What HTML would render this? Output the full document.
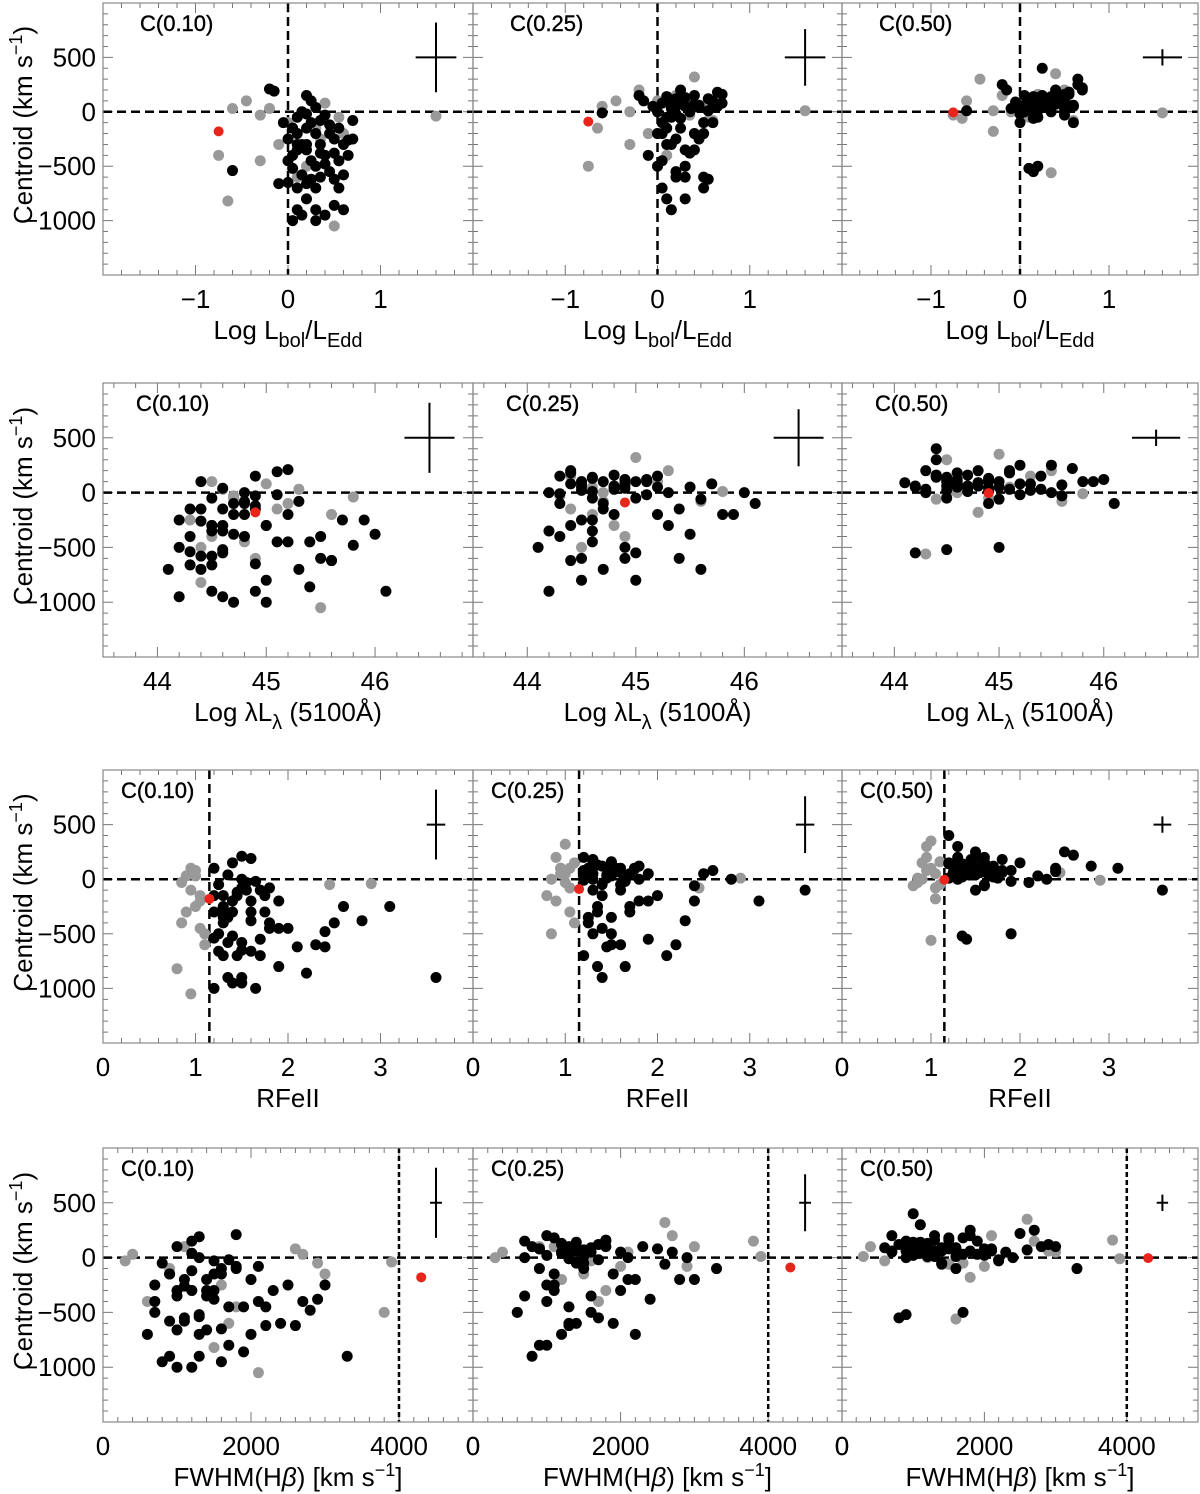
<!DOCTYPE html>
<html><head><meta charset="utf-8">
<style>
body{margin:0;background:#fff;}
svg{display:block;font-family:"Liberation Sans",Arial,sans-serif;}
</style></head>
<body>
<svg id="chart" width="1200" height="1494" viewBox="0 0 1200 1494"></svg>
<script>
// ---- data (one entry per object) ----
const ledd  = [0.2,-0.2,-0.15,0.05,0.1,0.0,0.05,-0.1,0.0,0.1,0.2,0.05,0.1,0.15,0.2,0.3,0.3,0.35,0.4,0.45,0.5,0.55,0.6,0.5,0.4,0.2,0.25,0.3,0.35,0.4,0.45,0.5,0.55,0.6,0.65,0.7,0.1,0.15,0.2,0.25,0.3,0.35,0.4,0.05,0.1,0.15,0.2,0.25,0.3,0.35,-0.05,0.0,0.05,0.15,0.25,0.45,0.5,0.55,0.6,0.65,-0.6,0.3,0.1,0.2,0.7];
const l5100 = [44.5,45.2,45.1,44.4,44.6,44.2,44.8,44.3,44.9,45.3,44.5,44.7,44.5,44.2,45.0,44.9,44.1,45.5,45.8,44.6,45.6,44.4,46.1,45.4,44.6,44.9,44.7,45.2,44.5,44.3,44.8,45.9,44.6,45.0,44.4,45.7,44.5,44.8,45.1,44.4,44.6,45.3,44.9,44.3,44.7,45.0,44.5,45.4,44.2,46.0,44.8,45.2,44.6,44.4,45.6,44.9,44.7,45.1,44.5,45.5,44.3,45.0,44.6,44.9,44.8];
const rfe   = [1.3,1.5,1.6,1.2,1.4,1.3,1.8,1.25,1.5,1.7,1.6,1.2,1.35,1.4,1.9,1.5,1.3,2.3,2.4,1.7,2.1,1.45,3.6,2.2,1.5,1.4,1.55,1.9,1.2,1.3,1.6,3.1,1.45,1.75,1.3,2.6,1.25,1.5,1.65,1.2,1.35,1.8,1.55,1.3,1.4,1.6,1.35,2.0,1.25,2.8,1.7,1.9,1.4,1.35,2.4,1.45,1.6,1.8,1.5,2.5,1.2,1.65,1.3,1.75,1.5];
const fwhm  = [1200,1800,1300,900,1500,700,2100,1000,1600,2000,1400,1200,900,800,1700,1300,600,2400,2800,1100,2200,1300,3300,1900,1600,1200,1800,2000,1000,700,1400,3000,1500,2300,1100,2500,800,1300,1700,1000,1200,2100,1500,900,1100,1400,1000,1900,700,2900,1600,2200,1300,1100,2600,1200,1500,1700,900,2700,1300,1000,1400,1600,1800];
const c10   = [-300,210,190,-150,-300,-250,-400,-660,-650,-700,-660,-1000,-900,-950,-800,-900,-700,-600,-480,-550,-620,-700,-900,-860,-950,150,-100,-200,-300,-400,-200,-250,-150,-300,-260,-250,-50,0,-20,100,40,-80,-30,-150,-200,-300,-350,-450,-500,-380,-100,-450,-520,-580,-620,-120,-380,-450,-580,-400,-540,-1000,-350,-150,-80];
const c25   = [50,150,100,80,-50,0,-200,-400,-500,-300,-600,-700,-800,-900,-550,-600,-500,-380,-200,-250,-700,-620,-100,-600,-350,120,100,50,20,150,60,-200,10,100,180,80,100,30,-20,200,130,0,70,-100,-150,-50,-250,-150,-350,0,50,-200,-450,-300,-60,40,-100,120,80,50,-10,-800,140,90,160];
const c50   = [100,250,200,150,80,50,60,30,-100,20,-50,10,-520,-550,-500,40,90,0,100,120,-30,160,-100,30,70,130,60,80,140,200,90,100,180,50,300,220,120,60,30,400,100,80,110,0,40,-60,20,150,60,120,90,-20,50,140,70,100,160,180,60,250,10,100,60,10,200];
// gray objects
const gLedd  = [-0.75,-0.65,-0.6,-0.45,-0.3,-0.2,1.6,0.1,0.5,0.3,0.55,0.4,-0.1,0.2,-0.3,0.6,0.0,0.35];
const gL5100 = [44.5,44.4,44.6,44.5,44.8,45.3,45.8,44.9,45.5,45.1,44.7,45.0,44.6,44.4,44.7,45.6,45.2,44.3];
const gRfe   = [0.85,0.8,1.0,0.95,1.05,0.9,2.9,1.1,0.95,1.05,2.45,1.0,0.9,1.1,0.85,1.05,0.95,1.0];
const gFwhm  = [600,1500,400,1100,1800,2700,3900,1700,2100,3000,2900,2600,1200,3800,300,2000,900,1600];
const gC10   = [-400,-820,30,100,-450,30,-40,-600,-1050,-150,-50,80,-300,-500,-30,-200,-100,-250];
const gC25   = [-500,-150,50,100,-300,200,10,-400,50,100,-80,320,-200,150,0,-80,100,-30];
const gC50   = [-30,-60,100,300,-180,150,-10,-50,200,50,60,350,0,160,10,-80,80,-560];
// red object
const rX = [-0.75, 44.9, 1.15, 4300];
const rC = [-180, -90, -5];
// panel setup
const colLabels = ["C(0.10)","C(0.25)","C(0.50)"];
const xRanges = [[-2,2],[43.5,46.9],[0,4],[0,5000]];
const xTicks = [[-1,0,1],[44,45,46],[0,1,2,3],[0,2000,4000]];
const xTickLabels = [["\u22121","0","1"],["44","45","46"],["0","1","2","3"],["0","2000","4000"]];
const vLines = [0, null, 1.15, 4000];
const errCenterX = [1.6, 46.5, 3.6, 4500];
const errHalfX = [0.22, 0.23, 0.1, 80];
const errHalfY = [320, 260, 75];
const yTicks = [500,0,-500,-1000];
const yTickLabels = ["500","0","\u2212500","\u22121000"];

const colL=[103,473,842], colR=[473,842,1198];
const rowT=[3,383,770,1148], rowB=[275,657,1043,1422];
const yR=[-1500,1000];
const NS="http://www.w3.org/2000/svg";
const svg=document.getElementById('chart');
function mk(tag,attrs,parent){const e=document.createElementNS(NS,tag);for(const k in attrs)e.setAttribute(k,attrs[k]);(parent||svg).appendChild(e);return e;}

const xsets=[[ledd,gLedd],[l5100,gL5100],[rfe,gRfe],[fwhm,gFwhm]];
const ysets=[[c10,gC10],[c25,gC25],[c50,gC50]];
const minorX=[0.2,0.2,0.2,200];

for(let r=0;r<4;r++){
 for(let c=0;c<3;c++){
  const L=colL[c],R=colR[c],T=rowT[r],B=rowB[r];
  const sx=v=>L+(v-xRanges[r][0])/(xRanges[r][1]-xRanges[r][0])*(R-L);
  const sy=v=>B-(v-yR[0])/(yR[1]-yR[0])*(B-T);
  const g=mk('g',{});
  
  
  let mt='';
  for(let v=yR[0];v<=yR[1];v+=100){const y=sy(v);const len=(v%500===0)?10:5;mt+=`M${L},${y}h${len}M${R},${y}h${-len}`;}
  const step=minorX[r];
  for(let v=Math.ceil(xRanges[r][0]/step)*step;v<=xRanges[r][1]+1e-9;v+=step){const x=sx(v);const maj=xTicks[r].some(t=>Math.abs(t-v)<1e-6);const len=maj?10:5;mt+=`M${x},${B}v${-len}M${x},${T}v${len}`;}
  const ticks=mk('path',{d:mt,stroke:'#777','stroke-width':1,fill:'none'},g);
  
  
  const zl=mk('line',{x1:L,x2:R,y1:sy(0),y2:sy(0),stroke:'#000','stroke-width':2.5,'stroke-dasharray':'9,5'},g);
  
  
  if(vLines[r]!==null){
   const vl=mk('line',{x1:sx(vLines[r]),x2:sx(vLines[r]),y1:T,y2:B,stroke:'#000','stroke-width':2.5,'stroke-dasharray':r===3?'5,3':'9,5'},g);
   
   
  }
  const [xb,xg]=xsets[r],[yb,yg]=ysets[c];
  for(let i=0;i<xg.length;i++){
   const p=mk('circle',{cx:sx(xg[i]),cy:sy(yg[i]),r:5.5,fill:'#999'},g);
   
   
  }
  for(let i=0;i<xb.length;i++){
   const p=mk('circle',{cx:sx(xb[i]),cy:sy(yb[i]),r:5.5,fill:'#000'},g);
   
   
  }
  const rp=mk('circle',{cx:sx(rX[r]),cy:sy(rC[c]),r:5,fill:'#e8251a'},g);
  
  
  const ex=sx(errCenterX[r]),ey=sy(500);
  const ew=sx(errCenterX[r]+errHalfX[r])-ex, eh=ey-sy(500+errHalfY[c]);
  const eb=mk('path',{d:`M${ex-ew},${ey}h${2*ew}M${ex},${ey-eh}v${2*eh}`,stroke:'#000','stroke-width':2,fill:'none'},g);
  
  
  const fr=mk('rect',{x:L,y:T,width:R-L,height:B-T,fill:'none',stroke:'#888','stroke-width':1.2},g);
  
  
  const pl=mk('text',{x:L+(r===0?37:(r===1?33:18)),y:T+28,'font-size':22,fill:'#000',stroke:'#000','stroke-width':0.4},g);
  pl.textContent=colLabels[c];
  
  
  for(let i=0;i<xTicks[r].length;i++){
   const t=mk('text',{x:sx(xTicks[r][i]),y:B+33,'font-size':26,'text-anchor':'middle',fill:'#000'},g);
   t.textContent=xTickLabels[r][i];
   
   
  }
  if((r===2||r===3)&&c<2){
   const t=mk('text',{x:R,y:B+33,'font-size':26,'text-anchor':'middle',fill:'#000'},g);
   t.textContent='0';
   
   
  }
  const xt=mk('text',{x:(L+R)/2,y:B+64,'font-size':26,'text-anchor':'middle',fill:'#000'},g);
  
  
  if(r===0) xt.innerHTML='Log  L<tspan font-size="20" dy="8">bol</tspan><tspan dy="-8">/L</tspan><tspan font-size="20" dy="8">Edd</tspan>';
  else if(r===1) xt.innerHTML='Log  λL<tspan font-size="20" dy="8">λ</tspan><tspan dy="-8">  (5100Å)</tspan>';
  else if(r===2) xt.textContent='RFeII';
  else xt.innerHTML='FWHM(H<tspan font-style="italic">β</tspan>)  [km  s<tspan font-size="18" dy="-10">−1</tspan><tspan dy="10">]</tspan>';
 }
 const T=rowT[r],B=rowB[r];
 const sy=v=>B-(v-yR[0])/(yR[1]-yR[0])*(B-T);
 for(let i=0;i<yTicks.length;i++){
  const t=mk('text',{x:96,y:sy(yTicks[i])+9,'font-size':26,'text-anchor':'end',fill:'#000'});
  t.textContent=yTickLabels[i];
  
  
 }
 const yt=mk('text',{x:0,y:0,'font-size':26,'text-anchor':'middle',fill:'#000',transform:`translate(32,${(T+B)/2-14}) rotate(-90)`});
 yt.innerHTML='Centroid  (km  s<tspan font-size="18" dy="-10">−1</tspan><tspan dy="10">)</tspan>';
 
 
}
</script>
</body></html>
